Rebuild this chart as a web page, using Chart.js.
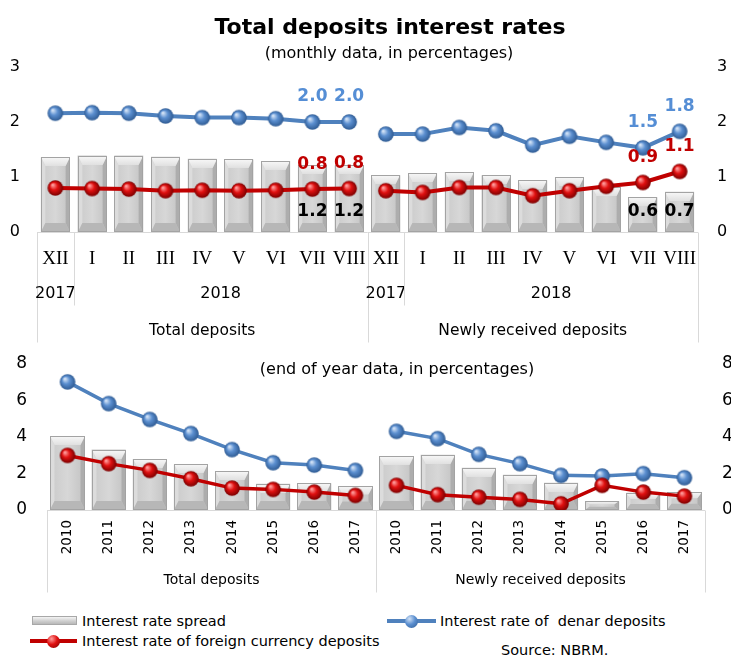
<!DOCTYPE html>
<html>
<head>
<meta charset="utf-8">
<script src="https://cdn.jsdelivr.net/npm/chart.js@4.4.1/dist/chart.umd.min.js"></script>
<style>
  html, body { margin: 0; padding: 0; width: 731px; height: 655px; overflow: hidden; background: #fff; }
  body { position: relative; font-family: "DejaVu Sans", sans-serif; color: #000; }
  canvas { position: absolute; left: 0; }
  #monthly { top: 0; }
  #yearly { top: 345px; }
  .txt { position: absolute; white-space: pre; line-height: 1; }
  .center { transform: translateX(-50%); }
  #title { left: 390px; top: 16px; font-size: 22px; font-weight: bold; }
  #sub1 { left: 389px; top: 45px; font-size: 16px; }
  #sub2 { left: 397px; top: 361px; font-size: 16px; }
  .leg { font-size: 14.5px; }
  .sym-bar { position: absolute; height: 9px; border: 1px solid #a8a8a8;
             background: linear-gradient(#f4f4f4, #d0d0d0 55%, #b8b8b8); box-sizing: border-box; }
  .sym-line { position: absolute; height: 4px; }
  .sym-ball { position: absolute; width: 13px; height: 13px; border-radius: 50%; }
</style>
</head>
<body>
<canvas id="monthly" width="745" height="345" style="width:745px;height:345px"></canvas>
<canvas id="yearly" width="745" height="255" style="width:745px;height:255px"></canvas>

<div class="txt center" id="title">Total deposits interest rates</div>
<div class="txt center" id="sub1">(monthly data, in percentages)</div>
<div class="txt center" id="sub2">(end of year data, in percentages)</div>

<div class="sym-bar" style="left:32px;top:616px;width:45px"></div>
<div class="txt leg" style="left:82px;top:614px">Interest rate spread</div>

<div class="sym-line" style="left:387px;top:619px;width:49px;background:#4F81BD"></div>
<div class="sym-ball" style="left:405px;top:614.5px;background:radial-gradient(circle at 35% 30%, #d2e2f6, #5b8fd0 45%, #2f5b93)"></div>
<div class="txt leg" style="left:440px;top:614px">Interest rate of  denar deposits</div>

<div class="sym-line" style="left:30px;top:639px;width:47px;background:#C00000"></div>
<div class="sym-ball" style="left:47px;top:634.5px;background:radial-gradient(circle at 35% 30%, #ff9c9c, #e01010 45%, #7a0000)"></div>
<div class="txt leg" style="left:82px;top:634px">Interest rate of foreign currency deposits</div>

<div class="txt leg" style="left:501px;top:643px">Source: NBRM.</div>

<script>
// ---- categories ----
const groupNames = ['Total deposits', 'Newly received deposits'];
const months = ['XII', 'I', 'II', 'III', 'IV', 'V', 'VI', 'VII', 'VIII'];
const monthYears = ['2017', '2018', '2018', '2018', '2018', '2018', '2018', '2018', '2018'];
const years = ['2010', '2011', '2012', '2013', '2014', '2015', '2016', '2017'];

// ---- monthly data, in percentages ----
const spreadTotalM  = [1.36, 1.39, 1.39, 1.37, 1.33, 1.32, 1.29, 1.22, 1.21];
const denarTotalM   = [2.16, 2.17, 2.16, 2.11, 2.08, 2.08, 2.06, 2.00, 2.00];
const foreignTotalM = [0.80, 0.79, 0.78, 0.75, 0.76, 0.75, 0.76, 0.78, 0.79];
const spreadNewM    = [1.03, 1.07, 1.09, 1.03, 0.94, 1.00, 0.82, 0.63, 0.73];
const denarNewM     = [1.78, 1.78, 1.90, 1.84, 1.58, 1.74, 1.63, 1.53, 1.83];
const foreignNewM   = [0.75, 0.72, 0.81, 0.81, 0.66, 0.75, 0.83, 0.90, 1.10];

// ---- end of year data, in percentages ----
const spreadTotalY  = [4.04, 3.31, 2.79, 2.50, 2.13, 1.44, 1.47, 1.31];
const denarTotalY   = [7.02, 5.83, 4.96, 4.19, 3.31, 2.59, 2.46, 2.17];
const foreignTotalY = [2.99, 2.54, 2.17, 1.71, 1.20, 1.13, 0.98, 0.80];
const spreadNewY    = [2.94, 3.03, 2.32, 1.93, 1.49, 0.47, 0.95, 0.98];
const denarNewY     = [4.31, 3.91, 3.05, 2.54, 1.90, 1.86, 1.99, 1.77];
const foreignNewY   = [1.35, 0.84, 0.70, 0.58, 0.34, 1.35, 0.98, 0.76];

// ---- ticks ----
const monthlyTicks = [0, 1, 2, 3];
const yearlyTicks = [0, 2, 4, 6, 8];

const SANS = '"DejaVu Sans", sans-serif';
const SERIF = '"Liberation Serif", "Times New Roman", serif';
const BLUE = '#4F81BD', BLUE_TXT = '#558ED5', RED = '#C00000';

Chart.defaults.font.family = SANS;
Chart.defaults.color = '#000';

// shaded ball used as the line markers
function ball(r, light, mid, dark) {
  const c = document.createElement('canvas');
  const s = Math.ceil(r * 2 + 2);
  c.width = c.height = s;
  const g = c.getContext('2d');
  const m = s / 2;
  const grad = g.createRadialGradient(m - r * 0.35, m - r * 0.4, r * 0.08, m, m, r);
  grad.addColorStop(0, light);
  grad.addColorStop(0.45, mid);
  grad.addColorStop(1, dark);
  g.fillStyle = grad;
  g.beginPath(); g.arc(m, m, r, 0, Math.PI * 2); g.fill();
  return c;
}
const blueBall = ball(7.8, '#d2e2f6', '#5b8fd0', '#2f5b93');
const redBall = ball(7.8, '#ff9c9c', '#e01010', '#7a0000');

// bevelled look for the spread bars
function bevelBar(ctx, cx, w, top, base) {
  const x0 = Math.round(cx - w / 2), x1 = Math.round(cx + w / 2);
  const t = Math.round(top), b = Math.round(base);
  const h = b - t;
  if (h <= 0) return;
  const bx = Math.min(4.5, w * 0.15), by = Math.min(9, h * 0.35);
  const poly = (pts, fill) => {
    ctx.beginPath();
    ctx.moveTo(pts[0][0], pts[0][1]);
    for (let i = 1; i < pts.length; i++) ctx.lineTo(pts[i][0], pts[i][1]);
    ctx.closePath();
    ctx.fillStyle = fill;
    ctx.fill();
  };
  ctx.save();
  const face = ctx.createLinearGradient(x0, 0, x1, 0);
  face.addColorStop(0, '#cacaca');
  face.addColorStop(0.5, '#d7d7d7');
  face.addColorStop(1, '#c2c2c2');
  ctx.fillStyle = face;
  ctx.fillRect(x0, t, x1 - x0, h);
  poly([[x0, t], [x0 + bx, t + by], [x0 + bx, b - by], [x0, b]], '#dcdcdc');
  poly([[x1, t], [x1 - bx, t + by], [x1 - bx, b - by], [x1, b]], '#adadad');
  const topG = ctx.createLinearGradient(0, t, 0, t + by);
  topG.addColorStop(0, '#f8f8f8');
  topG.addColorStop(1, '#e0e0e0');
  poly([[x0, t], [x1, t], [x1 - bx, t + by], [x0 + bx, t + by]], topG);
  poly([[x0, b], [x1, b], [x1 - bx, b - by], [x0 + bx, b - by]], '#b7b7b7');
  ctx.strokeStyle = '#a3a3a3';
  ctx.lineWidth = 1;
  ctx.strokeRect(x0 + 0.5, t + 0.5, x1 - x0 - 1, h - 1);
  ctx.restore();
}

const bevelPlugin = {
  id: 'bevel',
  afterDatasetDraw(chart, args) {
    if (chart.data.datasets[args.index].type !== 'bar') return;
    const ctx = chart.ctx;
    args.meta.data.forEach(el => {
      const p = el.getProps(['x', 'y', 'base', 'width'], true);
      bevelBar(ctx, p.x, p.width, Math.min(p.y, p.base), Math.max(p.y, p.base));
    });
  }
};

// multi-level category frame: axis line, separators, year and group captions
const catFrame = {
  id: 'catFrame',
  afterDraw(chart, args, o) {
    const ctx = chart.ctx, xs = chart.scales.x;
    const n = chart.data.labels.length;
    const per = n / o.groups.length;
    const edge = i => i <= 0 ? xs.left : i >= n ? xs.right
      : (xs.getPixelForValue(i - 1) + xs.getPixelForValue(i)) / 2;
    const y0 = Math.round(xs.top) + 0.5;
    const vline = (x, len) => {
      const xx = Math.round(x) + 0.5;
      ctx.beginPath(); ctx.moveTo(xx, y0); ctx.lineTo(xx, y0 + len); ctx.stroke();
    };
    ctx.save();
    ctx.strokeStyle = '#d9d9d9';
    ctx.lineWidth = 1;
    ctx.beginPath(); ctx.moveTo(xs.left, y0); ctx.lineTo(xs.right, y0); ctx.stroke();
    ctx.fillStyle = '#000';
    ctx.textAlign = 'center';
    ctx.textBaseline = 'middle';
    for (let g = 0; g <= o.groups.length; g++) vline(edge(g * per), o.groupLineLen);
    o.groups.forEach((name, g) => {
      const a = g * per, b = (g + 1) * per;
      if (o.years) {
        ctx.font = o.yearFont;
        let s = 0;
        while (s < per) {
          let e = s;
          while (e + 1 < per && o.years[e + 1] === o.years[s]) e++;
          if (s > 0) vline(edge(a + s), o.yearLineLen);
          ctx.fillText(o.years[s], (edge(a + s) + edge(a + e + 1)) / 2, y0 + o.yearY);
          s = e + 1;
        }
      }
      ctx.font = o.groupFont;
      ctx.fillText(name, (edge(a) + edge(b)) / 2, y0 + o.groupY);
    });
    ctx.restore();
  }
};

// value captions for the latest two months of each group
const valueTags = {
  id: 'valueTags',
  afterDatasetsDraw(chart, args, o) {
    if (!o.tags) return;
    const ctx = chart.ctx;
    ctx.save();
    ctx.font = 'bold 17px ' + SANS;
    ctx.textAlign = 'center';
    ctx.textBaseline = 'middle';
    o.tags.forEach(t => {
      const meta = chart.getDatasetMeta(t.dataset);
      const data = chart.data.datasets[t.dataset].data;
      o.indices.forEach(i => {
        const p = meta.data[i].getProps(['x', 'y', 'base'], true);
        const y = t.atBase ? p.base + t.dy : p.y + t.dy;
        ctx.fillStyle = t.color;
        ctx.fillText(data[i].toFixed(1), p.x, y);
      });
    });
    ctx.restore();
  }
};

function yAxis(pos, ticks, width, pad, size) {
  return {
    position: pos,
    min: ticks[0],
    max: ticks[ticks.length - 1],
    grid: { display: false, drawTicks: false },
    border: { display: false },
    ticks: { stepSize: ticks[1] - ticks[0], padding: pad, color: '#000', font: { size: size, family: SANS } },
    afterFit: s => { s.width = width; s.paddingTop = 0; s.paddingBottom = 0; }
  };
}

function lineSet(label, data, color, img, width, order, split) {
  return {
    type: 'line', label, data, order,
    borderColor: color, backgroundColor: color, borderWidth: width,
    tension: 0, fill: false,
    pointStyle: img, pointRadius: 8, pointHoverRadius: 8,
    segment: { borderColor: c => (c.p0DataIndex === split - 1 ? 'rgba(0,0,0,0)' : undefined) }
  };
}

// ---------- monthly chart ----------
const nM = months.length;
const lastTwo = [nM - 2, nM - 1, 2 * nM - 2, 2 * nM - 1];
new Chart(document.getElementById('monthly'), {
  data: {
    labels: [...months, ...months],
    datasets: [
      lineSet('Interest rate of foreign currency deposits', [...foreignTotalM, ...foreignNewM], RED, redBall, 4, 0, nM),
      lineSet('Interest rate of  denar deposits', [...denarTotalM, ...denarNewM], BLUE, blueBall, 4, 1, nM),
      { type: 'bar', label: 'Interest rate spread', data: [...spreadTotalM, ...spreadNewM], order: 2,
        backgroundColor: '#cccccc', borderWidth: 0, categoryPercentage: 1, barPercentage: 0.79 }
    ]
  },
  options: {
    responsive: false, animation: false,
    layout: { padding: { top: 67, left: 0, right: 0, bottom: 0 } },
    plugins: {
      legend: { display: false }, tooltip: { enabled: false },
      catFrame: {
        groups: groupNames, years: monthYears,
        yearFont: '16px ' + SANS, groupFont: '15.5px ' + SANS,
        yearY: 61, groupY: 98, yearLineLen: 73, groupLineLen: 110
      },
      valueTags: {
        indices: lastTwo,
        tags: [
          { dataset: 1, color: BLUE_TXT, dy: -25 },
          { dataset: 0, color: RED, dy: -25 },
          { dataset: 2, color: '#000', dy: -20, atBase: true }
        ]
      }
    },
    scales: {
      x: {
        type: 'category', offset: true,
        grid: { display: false, drawTicks: false }, border: { display: false },
        ticks: { autoSkip: false, maxRotation: 0, padding: 16, color: '#000', font: { family: SERIF, size: 19 } },
        afterFit: s => { s.height = 113; }
      },
      y: yAxis('left', monthlyTicks, 37, 17, 16),
      y2: yAxis('right', monthlyTicks, 47, 19, 16)
    }
  },
  plugins: [bevelPlugin, catFrame, valueTags]
});

// ---------- end of year chart ----------
const nY = years.length;
new Chart(document.getElementById('yearly'), {
  data: {
    labels: [...years, ...years],
    datasets: [
      lineSet('Interest rate of foreign currency deposits', [...foreignTotalY, ...foreignNewY], RED, redBall, 3.5, 0, nY),
      lineSet('Interest rate of  denar deposits', [...denarTotalY, ...denarNewY], BLUE, blueBall, 3.5, 1, nY),
      { type: 'bar', label: 'Interest rate spread', data: [...spreadTotalY, ...spreadNewY], order: 2,
        backgroundColor: '#cccccc', borderWidth: 0, categoryPercentage: 1, barPercentage: 0.83 }
    ]
  },
  options: {
    responsive: false, animation: false,
    layout: { padding: { top: 19, left: 0, right: 0, bottom: 0 } },
    plugins: {
      legend: { display: false }, tooltip: { enabled: false },
      catFrame: { groups: groupNames, groupFont: '14px ' + SANS, groupY: 70, groupLineLen: 82 }
    },
    scales: {
      x: {
        type: 'category', offset: true,
        grid: { display: false, drawTicks: false }, border: { display: false },
        ticks: { autoSkip: false, minRotation: 90, maxRotation: 90, padding: 10, color: '#000', font: { family: SANS, size: 13.5 } },
        afterFit: s => { s.height = 90; }
      },
      y: yAxis('left', yearlyTicks, 47, 20, 17),
      y2: yAxis('right', yearlyTicks, 40, 17, 17)
    }
  },
  plugins: [bevelPlugin, catFrame]
});
</script>
</body>
</html>
